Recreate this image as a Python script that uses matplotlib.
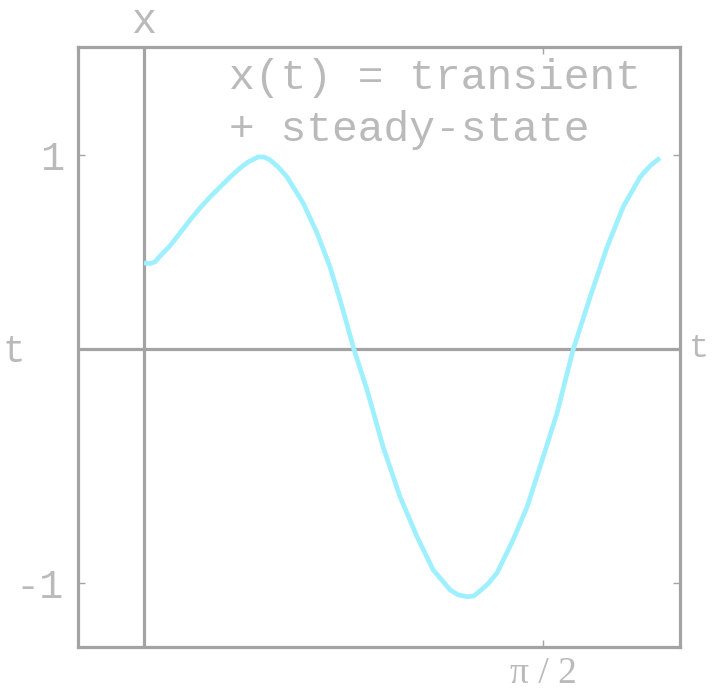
import numpy as np
import matplotlib.pyplot as plt

# sampled response x(t)
t = [0.0, 0.024, 0.043, 0.063, 0.102, 0.142, 0.181, 0.220, 0.260, 0.299,
     0.339, 0.378, 0.409, 0.449, 0.472, 0.496, 0.528, 0.563, 0.626, 0.681,
     0.732, 0.772, 0.827, 0.878, 0.941, 1.008, 1.075, 1.138, 1.205, 1.236,
     1.272, 1.299, 1.323, 1.354, 1.390, 1.453, 1.508, 1.559, 1.626, 1.689,
     1.756, 1.823, 1.886, 1.953, 1.992, 2.031]
x = [0.495, 0.493, 0.500, 0.528, 0.575, 0.636, 0.696, 0.752, 0.804, 0.850,
     0.897, 0.939, 0.967, 0.991, 0.991, 0.977, 0.944, 0.897, 0.776, 0.636,
     0.477, 0.322, 0.089, -0.098, -0.364, -0.598, -0.785, -0.939, -1.033, -1.056,
     -1.065, -1.061, -1.037, -1.005, -0.953, -0.799, -0.645, -0.458, -0.206, 0.089,
     0.336, 0.570, 0.757, 0.897, 0.949, 0.986]

y_ticks = [1, -1]
y_labels = ['1', '-1']
t_ticks = [np.pi / 2]
t_labels = ['π / 2']
t_axis_y = 0.093

gray = '#a3a3a3'
text_gray = '#bababa'
mono = 'Liberation Mono'

fig = plt.figure(figsize=(7.12, 6.96), dpi=100)
ax = fig.add_axes([78 / 712, 49 / 696, 602 / 712, 600 / 696])
ax.set_xlim(-0.26, 2.11)
ax.set_ylim(-1.30, 1.505)

for s in ax.spines.values():
    s.set_color(gray)
    s.set_linewidth(2.3)

ax.axvline(0, color=gray, lw=2.3, zorder=1)
ax.axhline(t_axis_y, color=gray, lw=2.3, zorder=1)

ax.plot(t, x, color='#9ff0ff', lw=3.4, solid_joinstyle='round',
        solid_capstyle='butt', zorder=2)

ax.set_yticks(y_ticks)
ax.set_yticklabels(y_labels, family=mono, fontsize=29, color=text_gray)
ax.set_xticks(t_ticks)
ax.set_xticklabels(t_labels, family='Liberation Serif', fontsize=27, color=text_gray)
ax.tick_params(axis='y', direction='in', length=5, width=1, color=gray,
               left=True, right=True, pad=10)
ax.tick_params(axis='x', direction='in', length=5, width=1, color=gray,
               bottom=True, top=True, pad=7)

ax.text(0.335, 1.36, 'x(t) = transient', family=mono, fontsize=31,
        color=text_gray, va='center', ha='left')
ax.text(0.335, 1.117, '+ steady-state', family=mono, fontsize=31,
        color=text_gray, va='center', ha='left')

fig.text(144 / 712, 1 - 22 / 696, 'x', family=mono, fontsize=30,
         color=text_gray, ha='center', va='center')
fig.text(2 / 712, 1 - 352 / 696, 't', family=mono, fontsize=27,
         color=text_gray, ha='left', va='center')
fig.text(689 / 712, 1 - 349 / 696, 't', family=mono, fontsize=24,
         color=text_gray, ha='left', va='center')

fig.savefig('out.png', dpi=100)
